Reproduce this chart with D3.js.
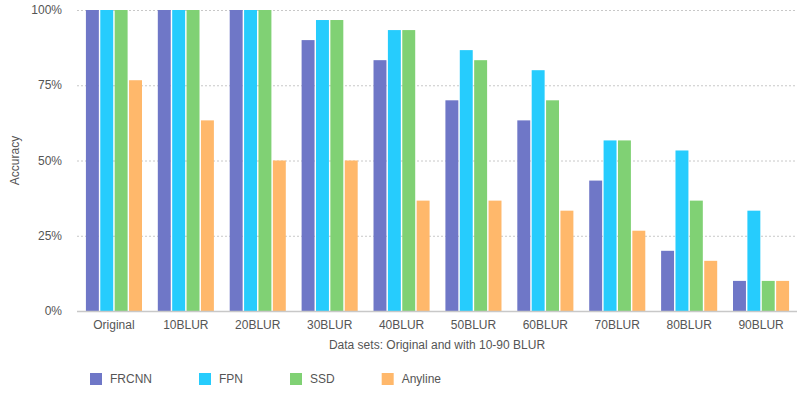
<!DOCTYPE html>
<html>
<head>
<meta charset="utf-8">
<script src="https://cdn.jsdelivr.net/npm/d3@7"></script>
<style>
  body { margin: 0; background: #fff; }
  text { font-family: "Liberation Sans", Arial, sans-serif; fill: #555; }
</style>
</head>
<body>
<script>
let categories = ["Original", "10BLUR", "20BLUR", "30BLUR", "40BLUR", "50BLUR", "60BLUR", "70BLUR", "80BLUR", "90BLUR"]
let seriesNames = ["FRCNN", "FPN", "SSD", "Anyline"]
let frcnn = [100, 100, 100, 90, 83.33, 70, 63.33, 43.33, 20, 10]
let fpn = [100, 100, 100, 96.67, 93.33, 86.67, 80, 56.67, 53.33, 33.33]
let ssd = [100, 100, 100, 96.67, 93.33, 83.33, 70, 56.67, 36.67, 10]
let anyline = [76.67, 63.33, 50, 50, 36.67, 36.67, 33.33, 26.67, 16.67, 10]
let yTicks = [0, 25, 50, 75, 100]
let colors = ["#6f77c7", "#26ccfd", "#80d174", "#ffb86b"]

let width = 808
let height = 396
let margin = { top: 10, right: 11, bottom: 85, left: 77 }

let series = [frcnn, fpn, ssd, anyline]
let rows = categories.map((c, i) => ({ cat: c, values: series.map((s, j) => ({ key: seriesNames[j], value: s[i] })) }))

let svg = d3.select("body").append("svg")
    .attr("width", width)
    .attr("height", height)

let x0 = d3.scaleBand()
    .domain(categories)
    .range([margin.left + 1, width - margin.right])
    .paddingInner(0.22)
    .paddingOuter(0.11)

let x1 = d3.scaleBand()
    .domain(seriesNames)
    .range([0, x0.bandwidth()])
    .paddingInner(0.1)

let y = d3.scaleLinear()
    .domain([0, 100])
    .range([height - margin.bottom, margin.top])

let color = d3.scaleOrdinal().domain(seriesNames).range(colors)

// grid
svg.append("g").selectAll("line")
    .data(yTicks.filter(d => d > 0))
    .enter().append("line")
    .attr("x1", margin.left)
    .attr("x2", width - margin.right)
    .attr("y1", d => y(d) + 0.5)
    .attr("y2", d => y(d) + 0.5)
    .attr("stroke", "#c8c8c8")
    .attr("stroke-dasharray", "2,2")

// y labels
svg.append("g").selectAll("text")
    .data(yTicks)
    .enter().append("text")
    .attr("x", 62)
    .attr("y", d => y(d))
    .attr("dy", "0.35em")
    .attr("text-anchor", "end")
    .style("font-size", "12px")
    .text(d => d + "%")

// bars
let groups = svg.append("g").selectAll("g")
    .data(rows)
    .enter().append("g")
    .attr("transform", d => "translate(" + x0(d.cat) + ",0)")

groups.selectAll("rect")
    .data(d => d.values)
    .enter().append("rect")
    .attr("x", d => x1(d.key))
    .attr("y", d => y(d.value))
    .attr("width", x1.bandwidth())
    .attr("height", d => y(0) - y(d.value))
    .attr("fill", d => color(d.key))

// baseline
svg.append("line")
    .attr("x1", margin.left)
    .attr("x2", width - margin.right)
    .attr("y1", y(0) + 0.5)
    .attr("y2", y(0) + 0.5)
    .attr("stroke", "#c8c8c8")
    .attr("stroke-width", 1.5)

// x labels
let xAxis = d3.axisBottom(x0).tickSize(0).tickPadding(9)
let gx = svg.append("g")
    .attr("transform", "translate(0," + y(0) + ")")
    .call(xAxis)
gx.select(".domain").remove()
gx.selectAll("text").style("font-size", "12px").attr("fill", "#555").style("font-family", "'Liberation Sans', Arial, sans-serif")

// axis titles
svg.append("text")
    .attr("x", (margin.left + width - margin.right) / 2)
    .attr("y", 349)
    .attr("text-anchor", "middle")
    .style("font-size", "12px")
    .text("Data sets: Original and with 10-90 BLUR")

svg.append("text")
    .attr("transform", "translate(19," + (margin.top + (y(0) - margin.top) / 2) + ") rotate(-90)")
    .attr("text-anchor", "middle")
    .style("font-size", "12px")
    .text("Accuracy")

// legend
let legend = svg.append("g").attr("transform", "translate(90,373)")
let lx = 0
seriesNames.forEach((name) => {
    let item = legend.append("g").attr("transform", "translate(" + lx + ",0)")
    item.append("rect")
        .attr("width", 12)
        .attr("height", 12)
        .attr("fill", color(name))
    let t = item.append("text")
        .attr("x", 20)
        .attr("y", 6)
        .attr("dy", "0.35em")
        .style("font-size", "12px")
        .text(name)
    lx += 20 + t.node().getComputedTextLength() + 47
})
</script>
</body>
</html>
